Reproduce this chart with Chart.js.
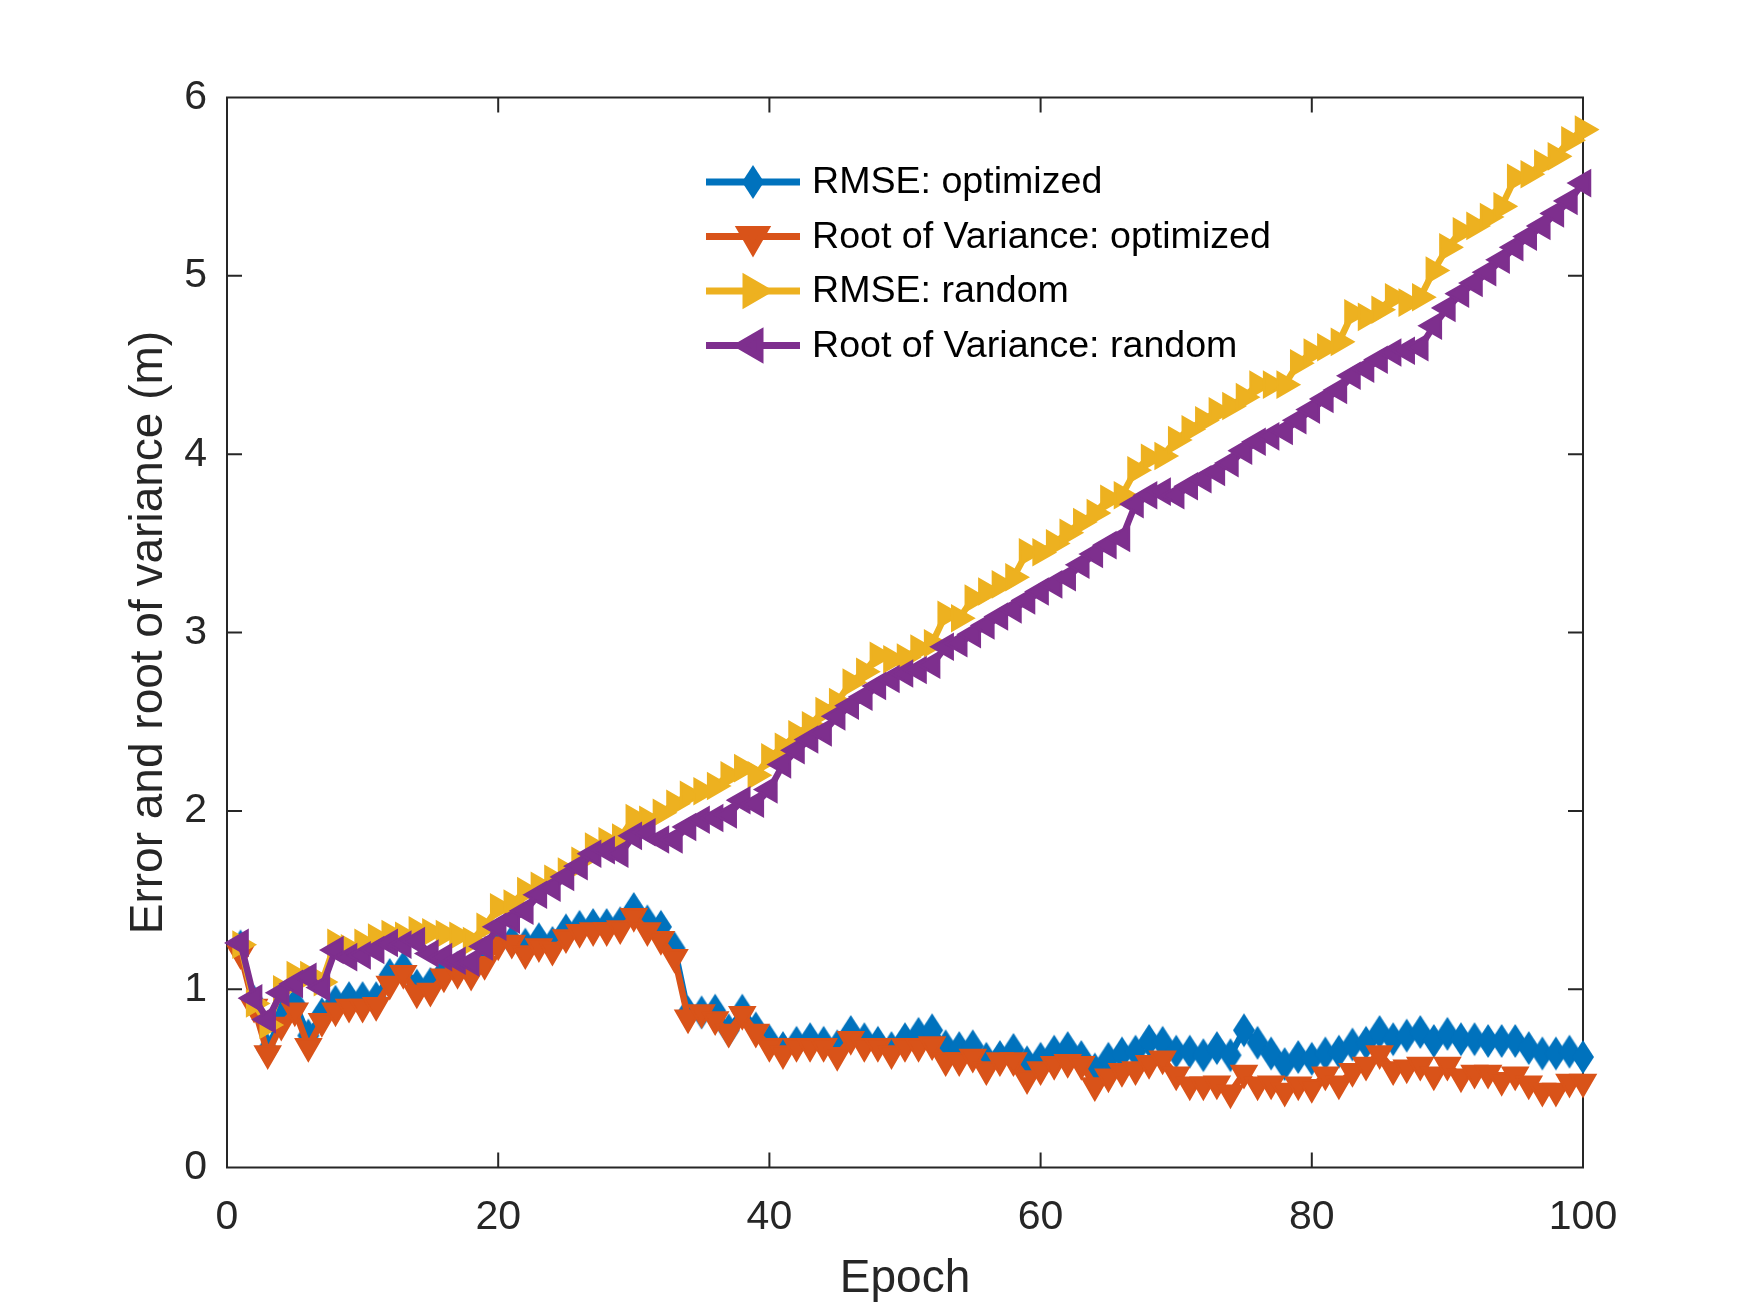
<!DOCTYPE html>
<html>
<head>
<meta charset="utf-8">
<script src="https://cdn.jsdelivr.net/npm/chart.js@4.4.1/dist/chart.umd.min.js"></script>
<style>
  html, body { margin: 0; padding: 0; background: #ffffff; }
  #wrap { width: 1750px; height: 1312px; }
</style>
</head>
<body>
<div id="wrap"><canvas id="c" width="1750" height="1312"></canvas></div>
<script>
// ---- data ----
const epochs = [1,2,3,4,5,6,7,8,9,10,11,12,13,14,15,16,17,18,19,20,
  21,22,23,24,25,26,27,28,29,30,31,32,33,34,35,36,37,38,39,40,
  41,42,43,44,45,46,47,48,49,50,51,52,53,54,55,56,57,58,59,60,
  61,62,63,64,65,66,67,68,69,70,71,72,73,74,75,76,77,78,79,80,
  81,82,83,84,85,86,87,88,89,90,91,92,93,94,95,96,97,98,99,100];

const rmseOptimized = [
  1.24,0.93,0.66,0.85,0.92,0.74,0.86,0.93,0.95,0.95,
  0.95,1.08,1.12,1.02,1.03,1.10,1.12,1.10,1.17,1.27,
  1.27,1.25,1.28,1.26,1.33,1.35,1.36,1.36,1.37,1.45,
  1.38,1.35,1.23,0.87,0.87,0.88,0.77,0.88,0.78,0.71,
  0.67,0.70,0.72,0.70,0.68,0.76,0.72,0.70,0.67,0.72,
  0.75,0.77,0.68,0.67,0.68,0.61,0.62,0.66,0.59,0.61,
  0.65,0.67,0.62,0.55,0.61,0.64,0.65,0.71,0.70,0.65,
  0.65,0.63,0.67,0.63,0.77,0.70,0.64,0.58,0.62,0.61,
  0.64,0.65,0.69,0.70,0.76,0.72,0.74,0.76,0.71,0.75,
  0.72,0.72,0.71,0.71,0.71,0.67,0.64,0.64,0.65,0.62];

const rootVarOptimized = [
  1.20,0.90,0.64,0.80,0.88,0.68,0.82,0.88,0.90,0.90,
  0.91,1.03,1.09,0.98,0.99,1.07,1.09,1.08,1.14,1.25,
  1.26,1.20,1.24,1.22,1.29,1.32,1.33,1.33,1.34,1.41,
  1.33,1.28,1.18,0.84,0.87,0.83,0.76,0.86,0.76,0.68,
  0.64,0.68,0.68,0.68,0.63,0.72,0.68,0.68,0.64,0.68,
  0.68,0.69,0.60,0.60,0.62,0.55,0.60,0.60,0.50,0.55,
  0.58,0.59,0.58,0.46,0.51,0.54,0.55,0.585,0.61,0.52,
  0.465,0.465,0.47,0.42,0.53,0.465,0.47,0.43,0.465,0.45,
  0.52,0.47,0.54,0.575,0.64,0.55,0.56,0.575,0.52,0.575,
  0.51,0.53,0.53,0.49,0.52,0.47,0.43,0.43,0.48,0.48];

const rmseRandom = [
  1.25,0.92,0.80,1.00,1.08,1.08,1.04,1.26,1.23,1.26,
  1.29,1.31,1.30,1.33,1.32,1.31,1.30,1.27,1.35,1.46,
  1.48,1.55,1.58,1.62,1.66,1.72,1.80,1.83,1.85,1.96,
  1.95,1.99,2.04,2.09,2.11,2.14,2.20,2.24,2.20,2.30,
  2.36,2.43,2.48,2.56,2.61,2.72,2.78,2.87,2.85,2.86,
  2.91,2.94,3.10,3.08,3.19,3.23,3.27,3.31,3.45,3.45,
  3.50,3.56,3.62,3.67,3.75,3.77,3.91,3.98,3.99,4.08,
  4.14,4.19,4.24,4.27,4.32,4.39,4.39,4.39,4.51,4.57,
  4.60,4.63,4.79,4.77,4.81,4.88,4.85,4.88,5.03,5.16,
  5.25,5.28,5.33,5.39,5.55,5.57,5.63,5.67,5.76,5.82];

const rootVarRandom = [
  1.26,0.95,0.83,0.98,1.03,1.07,1.01,1.22,1.18,1.19,
  1.22,1.26,1.25,1.27,1.20,1.18,1.16,1.15,1.24,1.35,
  1.39,1.44,1.53,1.57,1.63,1.69,1.76,1.78,1.76,1.86,
  1.88,1.84,1.84,1.91,1.95,1.96,1.98,2.06,2.04,2.12,
  2.26,2.34,2.40,2.44,2.53,2.59,2.64,2.70,2.74,2.77,
  2.79,2.82,2.92,2.94,2.99,3.04,3.09,3.13,3.18,3.23,
  3.27,3.31,3.38,3.44,3.49,3.53,3.72,3.77,3.79,3.77,
  3.82,3.86,3.90,3.95,4.02,4.07,4.10,4.13,4.19,4.25,
  4.31,4.36,4.44,4.48,4.53,4.57,4.58,4.60,4.72,4.82,
  4.90,4.96,5.02,5.09,5.16,5.22,5.28,5.35,5.42,5.52];

const seriesNames = ['RMSE: optimized', 'Root of Variance: optimized', 'RMSE: random', 'Root of Variance: random'];
const xTicks = [0, 20, 40, 60, 80, 100];
const yTicks = [0, 1, 2, 3, 4, 5, 6];
const xTitle = 'Epoch';
const yTitle = 'Error and root of variance (m)';

// ---- styles ----
const COLORS = ['#0072BD', '#D95319', '#EDB120', '#7E2F8E'];
const AXIS = '#262626';
const FONT = '"Liberation Sans", Arial, Helvetica, sans-serif';

function makeDiamond(color) {
  const c = document.createElement('canvas');
  c.width = 24; c.height = 36;
  const g = c.getContext('2d');
  g.fillStyle = color;
  g.beginPath();
  g.moveTo(12, 1); g.lineTo(23, 18); g.lineTo(12, 35); g.lineTo(1, 18);
  g.closePath(); g.fill();
  return c;
}
const diamond = makeDiamond(COLORS[0]);

const markerDefs = [
  { pointStyle: diamond, rotation: 0 },
  { pointStyle: 'triangle', rotation: 180 },
  { pointStyle: 'triangle', rotation: 90 },
  { pointStyle: 'triangle', rotation: 270 }
];
const seriesData = [rmseOptimized, rootVarOptimized, rmseRandom, rootVarRandom];

const datasets = seriesData.map((vals, i) => ({
  label: seriesNames[i],
  data: epochs.map((e, k) => ({ x: e, y: vals[k] })),
  borderColor: COLORS[i],
  backgroundColor: COLORS[i],
  pointBackgroundColor: COLORS[i],
  pointBorderColor: COLORS[i],
  borderWidth: 6.5,
  pointStyle: markerDefs[i].pointStyle,
  pointRotation: markerDefs[i].rotation,
  pointRadius: 14,
  pointBorderWidth: 2.5,
  pointHoverRadius: 14,
  tension: 0,
  clip: false,
  order: 4 - i
}));

const frame = {
  id: 'frame',
  beforeDatasetsDraw(chart) {
    const { ctx, chartArea: a, scales } = chart;
    const tl = 15;
    ctx.save();
    ctx.strokeStyle = AXIS;
    ctx.lineWidth = 2;
    ctx.beginPath();
    ctx.rect(a.left, a.top, a.right - a.left, a.bottom - a.top);
    xTicks.forEach(v => {
      const px = scales.x.getPixelForValue(v);
      ctx.moveTo(px, a.bottom); ctx.lineTo(px, a.bottom - tl);
      ctx.moveTo(px, a.top); ctx.lineTo(px, a.top + tl);
    });
    yTicks.forEach(v => {
      const py = scales.y.getPixelForValue(v);
      ctx.moveTo(a.left, py); ctx.lineTo(a.left + tl, py);
      ctx.moveTo(a.right, py); ctx.lineTo(a.right - tl, py);
    });
    ctx.stroke();
    ctx.restore();
  }
};

const legendPlugin = {
  id: 'mlegend',
  afterDatasetsDraw(chart) {
    const ctx = chart.ctx;
    const x0 = 706, x1 = 800, tx = 812, y0 = 182, dy = 54.5;
    ctx.save();
    seriesNames.forEach((name, i) => {
      const y = y0 + dy * i;
      ctx.strokeStyle = COLORS[i];
      ctx.fillStyle = COLORS[i];
      ctx.lineWidth = 7;
      ctx.beginPath(); ctx.moveTo(x0, y); ctx.lineTo(x1, y); ctx.stroke();
      const m = markerDefs[i];
      Chart.helpers.drawPoint(ctx, {
        pointStyle: m.pointStyle, rotation: m.rotation, radius: 14, borderWidth: 2.5
      }, (x0 + x1) / 2, y);
      ctx.fillStyle = '#000000';
      ctx.font = '37.6px ' + FONT;
      ctx.textBaseline = 'middle';
      ctx.textAlign = 'left';
      ctx.fillText(name, tx, y + 1);
    });
    ctx.restore();
  }
};

new Chart(document.getElementById('c'), {
  type: 'line',
  data: { datasets },
  options: {
    responsive: false,
    devicePixelRatio: 1,
    animation: false,
    layout: { padding: { top: 97.5, right: 167, bottom: 0, left: 0 } },
    plugins: { legend: { display: false }, tooltip: { enabled: false } },
    scales: {
      x: {
        type: 'linear', min: 0, max: 100,
        afterFit: s => { s.height = 144.4; },
        afterBuildTicks: s => { s.ticks = xTicks.map(v => ({ value: v })); },
        grid: { display: false, drawTicks: false },
        border: { display: false },
        ticks: { color: AXIS, font: { family: FONT, size: 41 }, padding: 25, maxRotation: 0 },
        title: { display: true, text: xTitle, color: AXIS, font: { family: FONT, size: 46 }, padding: { top: 5, bottom: 5 } }
      },
      y: {
        type: 'linear', min: 0, max: 6,
        afterFit: s => { s.width = 227; },
        afterBuildTicks: s => { s.ticks = yTicks.map(v => ({ value: v })); },
        grid: { display: false, drawTicks: false },
        border: { display: false },
        ticks: { color: AXIS, font: { family: FONT, size: 41 }, padding: 20 },
        title: { display: true, text: yTitle, color: AXIS, font: { family: FONT, size: 46 }, padding: { top: 122, bottom: 0 } }
      }
    }
  },
  plugins: [frame, legendPlugin]
});
</script>
</body>
</html>
